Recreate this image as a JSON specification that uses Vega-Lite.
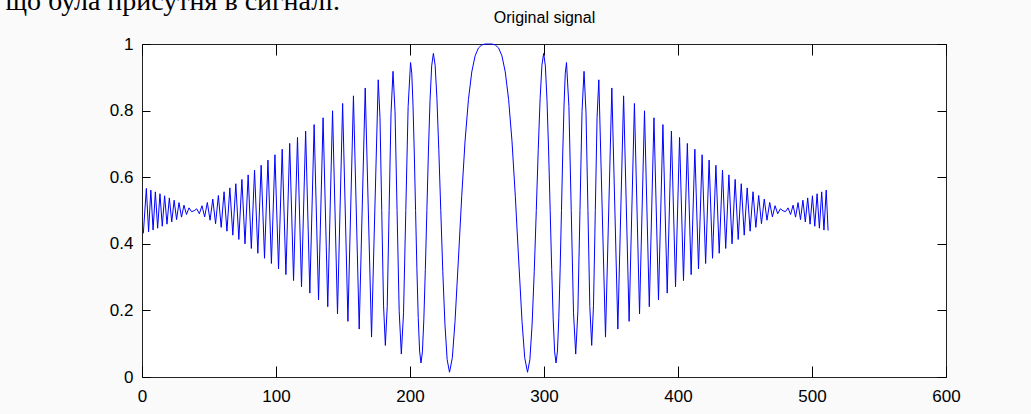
{
  "$schema": "https://vega.github.io/schema/vega-lite/v6.json",
  "width": 804,
  "height": 333,
  "autosize": {"type": "none"},
  "padding": {"left": 142, "top": 44, "right": 85, "bottom": 37},
  "background": "#fafafa",
  "title": {
    "text": "що була присутня в сигналі.",
    "anchor": "start",
    "frame": "group",
    "align": "right",
    "dx": 198,
    "offset": -6,
    "font": "Liberation Serif",
    "fontSize": 28,
    "fontWeight": "normal",
    "color": "#000000"
  },
  "config": {
    "view": {"stroke": "#222222", "strokeWidth": 1, "fill": "#ffffff"},
    "axis": {
      "labelFont": "Liberation Sans",
      "labelFontSize": 17,
      "labelColor": "#000000",
      "tickColor": "#000000",
      "tickWidth": 1,
      "domain": false,
      "grid": false,
      "labelFlush": false,
      "labelOverlap": false,
      "titleFont": "Liberation Sans",
      "titleFontSize": 16,
      "titleFontWeight": "normal",
      "titleColor": "#000000"
    }
  },
  "data": {
    "values": [
      {"x": 1, "y": 0.4313}, {"x": 3.25, "y": 0.5663}, {"x": 4.91, "y": 0.4361}, {"x": 6.59, "y": 0.5613}, {"x": 8.27, "y": 0.4413}, {"x": 9.97, "y": 0.556}, {"x": 11.68, "y": 0.4468}, {"x": 13.4, "y": 0.5503}, {"x": 15.13, "y": 0.4527}, {"x": 16.88, "y": 0.5442},
      {"x": 18.64, "y": 0.459}, {"x": 20.41, "y": 0.5378}, {"x": 22.19, "y": 0.4656}, {"x": 23.99, "y": 0.5309}, {"x": 25.8, "y": 0.4727}, {"x": 27.62, "y": 0.5237}, {"x": 29.47, "y": 0.4801}, {"x": 31.32, "y": 0.516}, {"x": 33.19, "y": 0.488}, {"x": 35.08, "y": 0.5079},
      {"x": 36.98, "y": 0.4964}, {"x": 38.9, "y": 0.4993}, {"x": 40.84, "y": 0.5051}, {"x": 42.79, "y": 0.4903}, {"x": 44.76, "y": 0.5144}, {"x": 46.75, "y": 0.4808}, {"x": 48.76, "y": 0.5241}, {"x": 50.79, "y": 0.4708}, {"x": 52.83, "y": 0.5343}, {"x": 54.9, "y": 0.4603},
      {"x": 56.99, "y": 0.5451}, {"x": 59.1, "y": 0.4494}, {"x": 61.23, "y": 0.5563}, {"x": 63.39, "y": 0.4378}, {"x": 65.57, "y": 0.5679}, {"x": 67.78, "y": 0.4259}, {"x": 70.01, "y": 0.5804}, {"x": 72.27, "y": 0.4131}, {"x": 74.55, "y": 0.5934}, {"x": 76.87, "y": 0.3999},
      {"x": 79.22, "y": 0.607}, {"x": 81.59, "y": 0.386}, {"x": 84, "y": 0.6211}, {"x": 86.44, "y": 0.3716}, {"x": 88.92, "y": 0.6358}, {"x": 91.43, "y": 0.3565}, {"x": 93.99, "y": 0.6513}, {"x": 96.58, "y": 0.3408}, {"x": 99.21, "y": 0.6673}, {"x": 101.89, "y": 0.3244},
      {"x": 104.62, "y": 0.684}, {"x": 107.39, "y": 0.3074}, {"x": 110.22, "y": 0.7014}, {"x": 113.1, "y": 0.2896}, {"x": 116.04, "y": 0.7195}, {"x": 119.04, "y": 0.2711}, {"x": 122.11, "y": 0.7384}, {"x": 125.25, "y": 0.2519}, {"x": 128.46, "y": 0.758}, {"x": 131.76, "y": 0.2319},
      {"x": 135.14, "y": 0.7784}, {"x": 138.62, "y": 0.2111}, {"x": 142.2, "y": 0.7995}, {"x": 145.9, "y": 0.1896}, {"x": 149.72, "y": 0.8215}, {"x": 153.68, "y": 0.1671}, {"x": 157.79, "y": 0.8443}, {"x": 162.09, "y": 0.1439}, {"x": 166.58, "y": 0.868}, {"x": 171.3, "y": 0.1198},
      {"x": 176.29, "y": 0.8925}, {"x": 177.59, "y": 0.7797}, {"x": 178.91, "y": 0.5}, {"x": 180.25, "y": 0.2157}, {"x": 181.61, "y": 0.0948}, {"x": 183, "y": 0.2113}, {"x": 184.41, "y": 0.5}, {"x": 185.85, "y": 0.7932}, {"x": 187.32, "y": 0.9179}, {"x": 188.82, "y": 0.7978},
      {"x": 190.35, "y": 0.5}, {"x": 191.92, "y": 0.1976}, {"x": 193.53, "y": 0.0689}, {"x": 195.18, "y": 0.1928}, {"x": 196.87, "y": 0.5}, {"x": 198.61, "y": 0.8118}, {"x": 200.4, "y": 0.9444},
      {"x": 201.32, "y": 0.9121}, {"x": 202.25, "y": 0.8165}, {"x": 203.2, "y": 0.6724}, {"x": 204.16, "y": 0.5}, {"x": 205.14, "y": 0.3265}, {"x": 206.14, "y": 0.1785}, {"x": 207.16, "y": 0.0782}, {"x": 208.2, "y": 0.042},
      {"x": 209.26, "y": 0.0754}, {"x": 210.34, "y": 0.1738}, {"x": 211.45, "y": 0.3228}, {"x": 212.59, "y": 0.5}, {"x": 213.75, "y": 0.6787}, {"x": 214.95, "y": 0.8311}, {"x": 216.18, "y": 0.9343}, {"x": 217.45, "y": 0.9718},
      {"x": 218.75, "y": 0.9363}, {"x": 220.1, "y": 0.836}, {"x": 221.5, "y": 0.6823}, {"x": 222.96, "y": 0.5}, {"x": 224.48, "y": 0.3161}, {"x": 226.07, "y": 0.1588}, {"x": 227.73, "y": 0.052}, {"x": 229.5, "y": 0.0142},
      {"x": 231.6, "y": 0.058}, {"x": 233.6, "y": 0.1668}, {"x": 236.1, "y": 0.3513}, {"x": 238.6, "y": 0.5428}, {"x": 241.1, "y": 0.7089}, {"x": 243.6, "y": 0.833}, {"x": 246.1, "y": 0.9161}, {"x": 248.6, "y": 0.9644}, {"x": 251.1, "y": 0.9882}, {"x": 253.6, "y": 0.9973}, {"x": 256.1, "y": 0.9999},
      {"x": 258.6, "y": 1},
      {"x": 261.1, "y": 0.9999}, {"x": 263.6, "y": 0.9973}, {"x": 266.1, "y": 0.9882}, {"x": 268.6, "y": 0.9644}, {"x": 271.1, "y": 0.9161}, {"x": 273.6, "y": 0.833}, {"x": 276.1, "y": 0.7089}, {"x": 278.6, "y": 0.5428}, {"x": 281.1, "y": 0.3513}, {"x": 283.6, "y": 0.1668}, {"x": 285.6, "y": 0.058},
      {"x": 287.7, "y": 0.0142}, {"x": 289.47, "y": 0.052}, {"x": 291.13, "y": 0.1588}, {"x": 292.72, "y": 0.3161}, {"x": 294.24, "y": 0.5}, {"x": 295.7, "y": 0.6823}, {"x": 297.1, "y": 0.836}, {"x": 298.45, "y": 0.9363},
      {"x": 299.75, "y": 0.9718}, {"x": 301.02, "y": 0.9343}, {"x": 302.25, "y": 0.8311}, {"x": 303.45, "y": 0.6787}, {"x": 304.61, "y": 0.5}, {"x": 305.75, "y": 0.3228}, {"x": 306.86, "y": 0.1738}, {"x": 307.94, "y": 0.0754},
      {"x": 309, "y": 0.042}, {"x": 310.04, "y": 0.0782}, {"x": 311.06, "y": 0.1785}, {"x": 312.06, "y": 0.3265}, {"x": 313.04, "y": 0.5}, {"x": 314, "y": 0.6724}, {"x": 314.95, "y": 0.8165}, {"x": 315.88, "y": 0.9121},
      {"x": 316.8, "y": 0.9444}, {"x": 318.59, "y": 0.8118}, {"x": 320.33, "y": 0.5}, {"x": 322.02, "y": 0.1928}, {"x": 323.67, "y": 0.0689}, {"x": 325.28, "y": 0.1976}, {"x": 326.85, "y": 0.5}, {"x": 328.38, "y": 0.7978},
      {"x": 329.88, "y": 0.9179}, {"x": 331.35, "y": 0.7932}, {"x": 332.79, "y": 0.5}, {"x": 334.2, "y": 0.2113}, {"x": 335.59, "y": 0.0948}, {"x": 336.95, "y": 0.2157}, {"x": 338.29, "y": 0.5}, {"x": 339.61, "y": 0.7797}, {"x": 340.91, "y": 0.8925}, {"x": 345.9, "y": 0.1198},
      {"x": 350.62, "y": 0.868}, {"x": 355.11, "y": 0.1439}, {"x": 359.41, "y": 0.8443}, {"x": 363.52, "y": 0.1671}, {"x": 367.48, "y": 0.8215}, {"x": 371.3, "y": 0.1896}, {"x": 375, "y": 0.7995}, {"x": 378.58, "y": 0.2111}, {"x": 382.06, "y": 0.7784}, {"x": 385.44, "y": 0.2319},
      {"x": 388.74, "y": 0.758}, {"x": 391.95, "y": 0.2519}, {"x": 395.09, "y": 0.7384}, {"x": 398.16, "y": 0.2711}, {"x": 401.16, "y": 0.7195}, {"x": 404.1, "y": 0.2896}, {"x": 406.98, "y": 0.7014}, {"x": 409.81, "y": 0.3074}, {"x": 412.58, "y": 0.684}, {"x": 415.31, "y": 0.3244},
      {"x": 417.99, "y": 0.6673}, {"x": 420.62, "y": 0.3408}, {"x": 423.21, "y": 0.6513}, {"x": 425.77, "y": 0.3565}, {"x": 428.28, "y": 0.6358}, {"x": 430.76, "y": 0.3716}, {"x": 433.2, "y": 0.6211}, {"x": 435.61, "y": 0.386}, {"x": 437.98, "y": 0.607}, {"x": 440.33, "y": 0.3999},
      {"x": 442.65, "y": 0.5934}, {"x": 444.93, "y": 0.4131}, {"x": 447.19, "y": 0.5804}, {"x": 449.42, "y": 0.4259}, {"x": 451.63, "y": 0.5679}, {"x": 453.81, "y": 0.4378}, {"x": 455.97, "y": 0.5563}, {"x": 458.1, "y": 0.4494}, {"x": 460.21, "y": 0.5451}, {"x": 462.3, "y": 0.4603},
      {"x": 464.37, "y": 0.5343}, {"x": 466.41, "y": 0.4708}, {"x": 468.44, "y": 0.5241}, {"x": 470.45, "y": 0.4808}, {"x": 472.44, "y": 0.5144}, {"x": 474.41, "y": 0.4903}, {"x": 476.36, "y": 0.5051}, {"x": 478.3, "y": 0.4993}, {"x": 480.22, "y": 0.4964}, {"x": 482.12, "y": 0.5079},
      {"x": 484.01, "y": 0.488}, {"x": 485.88, "y": 0.516}, {"x": 487.73, "y": 0.4801}, {"x": 489.58, "y": 0.5237}, {"x": 491.4, "y": 0.4727}, {"x": 493.21, "y": 0.5309}, {"x": 495.01, "y": 0.4656}, {"x": 496.79, "y": 0.5378}, {"x": 498.56, "y": 0.459}, {"x": 500.32, "y": 0.5442},
      {"x": 502.07, "y": 0.4527}, {"x": 503.8, "y": 0.5503}, {"x": 505.52, "y": 0.4468}, {"x": 507.23, "y": 0.556}, {"x": 508.93, "y": 0.4413}, {"x": 510.61, "y": 0.5613}, {"x": 512, "y": 0.44}
    ]
  },
  "layer": [
    {
      "mark": {"type": "line", "color": "#0000ff", "strokeWidth": 1},
      "encoding": {
        "x": {
          "field": "x", "type": "quantitative",
          "scale": {"domain": [0, 600], "nice": false, "zero": false},
          "axis": {"orient": "bottom", "title": null, "values": [0, 100, 200, 300, 400, 500, 600], "tickSize": -11, "labelPadding": 22}
        },
        "y": {
          "field": "y", "type": "quantitative",
          "scale": {"domain": [0, 1], "nice": false, "zero": false},
          "axis": {"orient": "left", "title": null, "values": [0, 0.2, 0.4, 0.6, 0.8, 1], "format": "~g", "tickSize": -8, "labelPadding": 17}
        }
      }
    },
    {
      "mark": {"type": "point", "opacity": 0},
      "encoding": {
        "x": {
          "field": "x", "type": "quantitative",
          "axis": {"orient": "top", "title": "Original signal", "titlePadding": 18, "labels": false, "values": [0, 100, 200, 300, 400, 500, 600], "tickSize": -11}
        },
        "y": {
          "field": "y", "type": "quantitative",
          "axis": {"orient": "right", "title": null, "labels": false, "values": [0, 0.2, 0.4, 0.6, 0.8, 1], "tickSize": -9}
        }
      }
    }
  ],
  "resolve": {"axis": {"x": "independent", "y": "independent"}}
}
